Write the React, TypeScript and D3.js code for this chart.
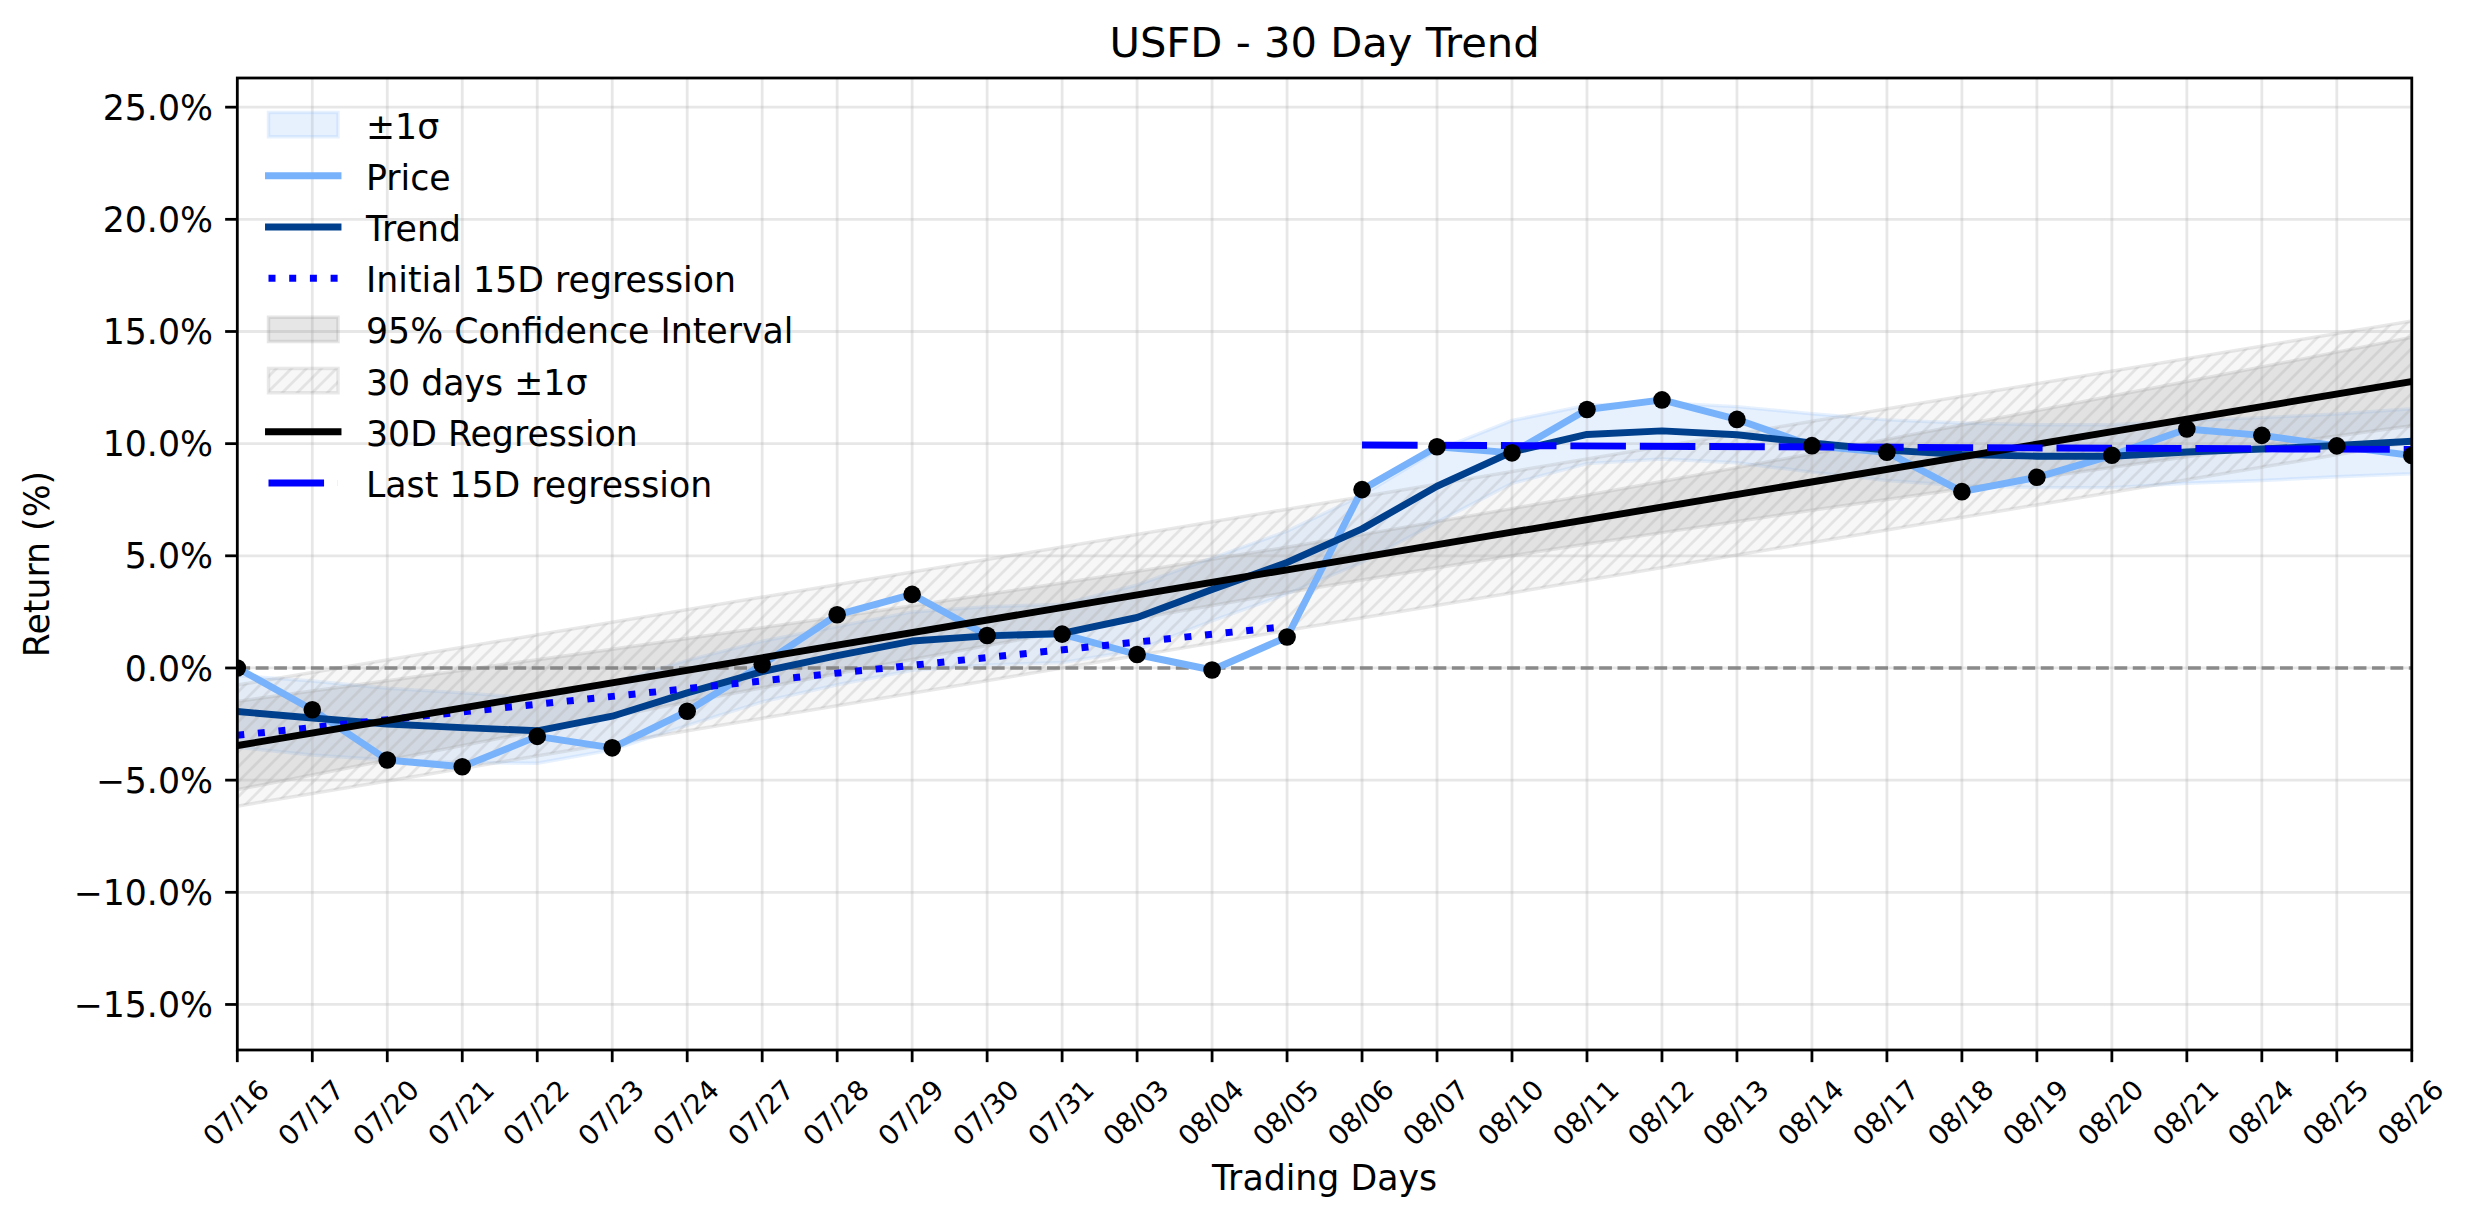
import React from "react";
import * as d3 from "d3";

// trading days on the x axis
const dates = [
  "07/16", "07/17", "07/20", "07/21", "07/22", "07/23", "07/24", "07/27", "07/28", "07/29",
  "07/30", "07/31", "08/03", "08/04", "08/05", "08/06", "08/07", "08/10", "08/11", "08/12",
  "08/13", "08/14", "08/17", "08/18", "08/19", "08/20", "08/21", "08/24", "08/25", "08/26",
];
// cumulative return (%)
const price = [
  0.0, -1.86, -4.1, -4.4, -3.05, -3.56, -1.93, 0.15, 2.37, 3.28,
  1.45, 1.51, 0.6, -0.09, 1.38, 7.95, 9.86, 9.59, 11.52, 11.95,
  11.08, 9.91, 9.62, 7.86, 8.5, 9.48, 10.65, 10.37, 9.9, 9.47,
];
const trend = [
  -1.94, -2.23, -2.5, -2.66, -2.8, -2.15, -1.11, -0.16, 0.55, 1.2,
  1.43, 1.54, 2.25, 3.5, 4.7, 6.2, 8.1, 9.63, 10.41, 10.57,
  10.4, 10.03, 9.71, 9.52, 9.44, 9.44, 9.63, 9.76, 9.92, 10.11,
];
// rolling std around the trend
const sigma = [
  1.6, 1.65, 1.6, 1.55, 1.45, 1.5, 1.45, 1.35, 1.3, 1.3,
  1.3, 1.3, 1.45, 1.4, 1.4, 1.5, 1.6, 1.4, 1.3, 1.25,
  1.25, 1.3, 1.35, 1.4, 1.4, 1.4, 1.4, 1.4, 1.4, 1.45,
];
// 95% CI half width around the 30D regression
const ciHalf = [
  1.97, 1.87, 1.77, 1.68, 1.59, 1.5, 1.42, 1.34, 1.26, 1.2,
  1.14, 1.09, 1.05, 1.03, 1.01, 1.01, 1.03, 1.05, 1.09, 1.14,
  1.2, 1.26, 1.34, 1.42, 1.5, 1.59, 1.68, 1.77, 1.87, 1.97,
];
const reg30 = [-3.46, 12.77]; // value at first and last day
const sigma30 = 2.7;
const firstReg = [-3.0, 1.85]; // days 0..14
const lastReg = [9.94, 9.74]; // days 15..29
const yTicks = [-15, -10, -5, 0, 5, 10, 15, 20, 25];

const W = 2474;
const H = 1224;
const m = { left: 237.3, right: 2411.8, top: 78, bottom: 1050 };

const priceColor = "#78b2fb";
const trendColor = "#003f8c";
const pt = 250 / 72;

export default function App() {
  const x = d3.scaleLinear().domain([0, dates.length - 1]).range([m.left, m.right]);
  const y = d3.scaleLinear().domain([-17.03, 26.3]).range([m.bottom, m.top]);
  const regAt = d3.scaleLinear().domain([0, dates.length - 1]).range(reg30);
  const idx = d3.range(dates.length);

  const line = d3.line<number>().x((_, i) => x(i)).y(d => y(d));
  const seg = d3.line<[number, number]>().x(d => x(d[0])).y(d => y(d[1]));

  const sigmaArea = d3
    .area<number>()
    .x((_, i) => x(i))
    .y0((d, i) => y(d - sigma[i]))
    .y1((d, i) => y(d + sigma[i]));
  const ciArea = d3
    .area<number>()
    .x(i => x(i))
    .y0(i => y(regAt(i) - ciHalf[i]))
    .y1(i => y(regAt(i) + ciHalf[i]));
  const bandArea = d3
    .area<number>()
    .x(i => x(i))
    .y0(i => y(regAt(i) - sigma30))
    .y1(i => y(regAt(i) + sigma30));

  const n = dates.length - 1;
  const lw = 2 * pt;
  const dotted = `${7} ${13.7}`;
  const dashed = `${16 * pt} ${4 * pt}`;

  const legend = [
    { label: "±1σ", kind: "sigma" },
    { label: "Price", kind: "price" },
    { label: "Trend", kind: "trend" },
    { label: "Initial 15D regression", kind: "first" },
    { label: "95% Confidence Interval", kind: "ci" },
    { label: "30 days ±1σ", kind: "band" },
    { label: "30D Regression", kind: "reg" },
    { label: "Last 15D regression", kind: "last" },
  ];

  const hx0 = 268.5;
  const hx1 = 338;

  return (
    <svg
      width={W}
      height={H}
      style={{ position: "absolute", left: 0, top: 0, background: "#fff" }}
      fontFamily="DejaVu Sans, sans-serif"
    >
      <defs>
        <clipPath id="plot">
          <rect x={m.left} y={m.top} width={m.right - m.left} height={m.bottom - m.top} />
        </clipPath>
        <pattern id="hatch" patternUnits="userSpaceOnUse" width={15} height={15}>
          <path d="M0,15 L15,0 M-2,2 L2,-2 M13,17 L17,13" stroke="#999" strokeOpacity={0.22} strokeWidth={2.8} />
        </pattern>
      </defs>
      <rect width={W} height={H} fill="#fff" />

      <g clipPath="url(#plot)">
        <path d={sigmaArea(trend) ?? ""} fill={priceColor} fillOpacity={0.18} stroke={priceColor} strokeOpacity={0.18} strokeWidth={pt} />
        <path d={ciArea([...idx]) ?? ""} fill="gray" fillOpacity={0.2} stroke="gray" strokeOpacity={0.2} strokeWidth={pt} />
        <path d={bandArea([0, n]) ?? ""} fill="lightgray" fillOpacity={0.18} />
        <path d={bandArea([0, n]) ?? ""} fill="url(#hatch)" stroke="#999" strokeOpacity={0.22} strokeWidth={pt} />

        {yTicks.map(t => (
          <line key={"gy" + t} x1={m.left} x2={m.right} y1={y(t)} y2={y(t)} stroke="#b0b0b0" strokeOpacity={0.3} strokeWidth={0.8 * pt} />
        ))}
        {idx.map(i => (
          <line key={"gx" + i} x1={x(i)} x2={x(i)} y1={m.top} y2={m.bottom} stroke="#b0b0b0" strokeOpacity={0.3} strokeWidth={0.8 * pt} />
        ))}

        <line x1={m.left} x2={m.right} y1={y(0)} y2={y(0)} stroke="gray" strokeOpacity={0.9} strokeWidth={pt} strokeDasharray={`${3.7 * pt} ${1.6 * pt}`} />

        <path d={line(price) ?? ""} fill="none" stroke={priceColor} strokeWidth={lw} strokeLinejoin="round" strokeLinecap="square" />
        <path d={line(trend) ?? ""} fill="none" stroke={trendColor} strokeWidth={lw} strokeLinejoin="round" strokeLinecap="square" />
        <path d={seg([[0, firstReg[0]], [14, firstReg[1]]]) ?? ""} fill="none" stroke="blue" strokeWidth={7} strokeDasharray={dotted} />
        <path d={seg([[0, reg30[0]], [n, reg30[1]]]) ?? ""} fill="none" stroke="#000" strokeWidth={lw} strokeLinecap="square" />
        <path d={seg([[15, lastReg[0]], [n, lastReg[1]]]) ?? ""} fill="none" stroke="blue" strokeWidth={lw} strokeDasharray={dashed} />

        {price.map((p, i) => (
          <circle key={"d" + i} cx={x(i)} cy={y(p)} r={8.8} fill="#000" />
        ))}
      </g>

      {/* spines */}
      <rect x={m.left} y={m.top} width={m.right - m.left} height={m.bottom - m.top} fill="none" stroke="#000" strokeWidth={0.8 * pt} />

      {/* y axis */}
      {yTicks.map(t => (
        <g key={"yt" + t}>
          <line x1={m.left - 3.5 * pt} x2={m.left} y1={y(t)} y2={y(t)} stroke="#000" strokeWidth={0.8 * pt} />
          <text x={m.left - 7 * pt} y={y(t) + 12.6} textAnchor="end" fontSize={10 * pt}>
            {(t < 0 ? "\u2212" : "") + Math.abs(t).toFixed(1) + "%"}
          </text>
        </g>
      ))}
      <text transform={`translate(49,${(m.top + m.bottom) / 2}) rotate(-90)`} textAnchor="middle" fontSize={10 * pt}>
        Return (%)
      </text>

      {/* x axis */}
      {dates.map((d, i) => (
        <g key={"xt" + i}>
          <line x1={x(i)} x2={x(i)} y1={m.bottom} y2={m.bottom + 3.5 * pt} stroke="#000" strokeWidth={0.8 * pt} />
          <text transform={`translate(${x(i) - 1.5},1112.5) rotate(-45)`} y={10} textAnchor="middle" fontSize={27.5}>
            {d}
          </text>
        </g>
      ))}
      <text x={(m.left + m.right) / 2} y={1190} textAnchor="middle" fontSize={10 * pt}>
        Trading Days
      </text>

      <text x={(m.left + m.right) / 2} y={57} textAnchor="middle" fontSize={12 * pt}>
        USFD - 30 Day Trend
      </text>

      {/* legend */}
      {legend.map((item, k) => {
        const base = 138.6 + 51.2 * k;
        const cy = base - 14;
        let handle: React.ReactNode = null;
        if (item.kind === "sigma") {
          handle = <rect x={hx0} y={cy - 12.15} width={hx1 - hx0} height={24.3} fill={priceColor} fillOpacity={0.18} stroke={priceColor} strokeOpacity={0.18} strokeWidth={pt} />;
        } else if (item.kind === "ci") {
          handle = <rect x={hx0} y={cy - 12.15} width={hx1 - hx0} height={24.3} fill="gray" fillOpacity={0.2} stroke="gray" strokeOpacity={0.2} strokeWidth={pt} />;
        } else if (item.kind === "band") {
          handle = (
            <g>
              <rect x={hx0} y={cy - 12.15} width={hx1 - hx0} height={24.3} fill="lightgray" fillOpacity={0.18} />
              <rect x={hx0} y={cy - 12.15} width={hx1 - hx0} height={24.3} fill="url(#hatch)" stroke="#999" strokeOpacity={0.22} strokeWidth={pt} />
            </g>
          );
        } else {
          const stroke = item.kind === "price" ? priceColor : item.kind === "trend" ? trendColor : item.kind === "reg" ? "#000" : "blue";
          const dash = item.kind === "first" ? dotted : item.kind === "last" ? dashed : undefined;
          handle = (
            <line
              x1={hx0}
              x2={hx1}
              y1={cy}
              y2={cy}
              stroke={stroke}
              strokeWidth={item.kind === "first" ? 7 : lw}
              strokeDasharray={dash}
              strokeLinecap={dash ? "butt" : "square"}
            />
          );
        }
        return (
          <g key={"lg" + k}>
            {handle}
            <text x={366} y={base} fontSize={10 * pt}>
              {item.label}
            </text>
          </g>
        );
      })}
    </svg>
  );
}
